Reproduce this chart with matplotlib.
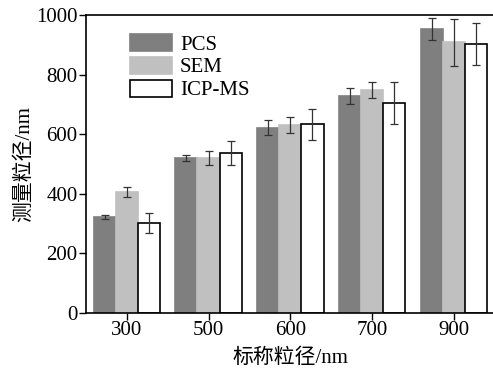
import numpy as np
import matplotlib.pyplot as plt

plt.rcParams['font.family'] = ['Liberation Serif', 'Noto Sans CJK SC']

# Data
categories = ['300', '500', '600', '700', '900']
series_names = ['PCS', 'SEM', 'ICP-MS']
pcs = [322, 520, 621, 728, 953]
sem = [406, 520, 630, 748, 909]
icp = [302, 537, 634, 705, 903]
pcs_err = [6, 11, 25, 28, 38]
sem_err = [17, 22, 27, 28, 79]
icp_err = [35, 40, 52, 70, 70]


def main():
    fig = plt.figure(figsize=(4.93, 3.74), dpi=100)
    ax = fig.add_axes([0.174, 0.163, 0.830, 0.797])

    x = np.arange(len(categories))
    w = 0.27
    values = [pcs, sem, icp]
    errors = [pcs_err, sem_err, icp_err]
    faces = ['#7f7f7f', '#c0c0c0', 'white']
    edges = ['#7f7f7f', '#c0c0c0', 'black']

    for i, (vals, errs) in enumerate(zip(values, errors)):
        ax.bar(x + (i - 1) * w, vals, w, color=faces[i], edgecolor=edges[i],
               linewidth=1.2, label=series_names[i], zorder=2)
        ax.errorbar(x + (i - 1) * w, vals, yerr=errs, fmt='none',
                    ecolor='#333333', elinewidth=0.9, capsize=3, capthick=0.9, zorder=3)

    ax.set_xlim(-0.5, len(categories) - 0.5)
    ax.set_ylim(0, 1000)
    ax.set_yticks(range(0, 1001, 200))
    ax.set_xticks(x)
    ax.set_xticklabels(categories)
    ax.tick_params(direction='out', length=5, width=1, labelsize=15, pad=1)
    for s in ax.spines.values():
        s.set_linewidth(1.2)

    ax.set_xlabel('标称粒径/nm', fontsize=15, labelpad=6)
    ax.set_ylabel('测量粒径/nm', fontsize=15, labelpad=1)

    ax.legend(loc='upper left', bbox_to_anchor=(0.088, 0.965), frameon=False,
              fontsize=15, handlelength=2.0, handleheight=0.9,
              labelspacing=0.1, handletextpad=0.4, borderaxespad=0)

    fig.savefig('out.png', dpi=100)


if __name__ == "__main__":
    main()
